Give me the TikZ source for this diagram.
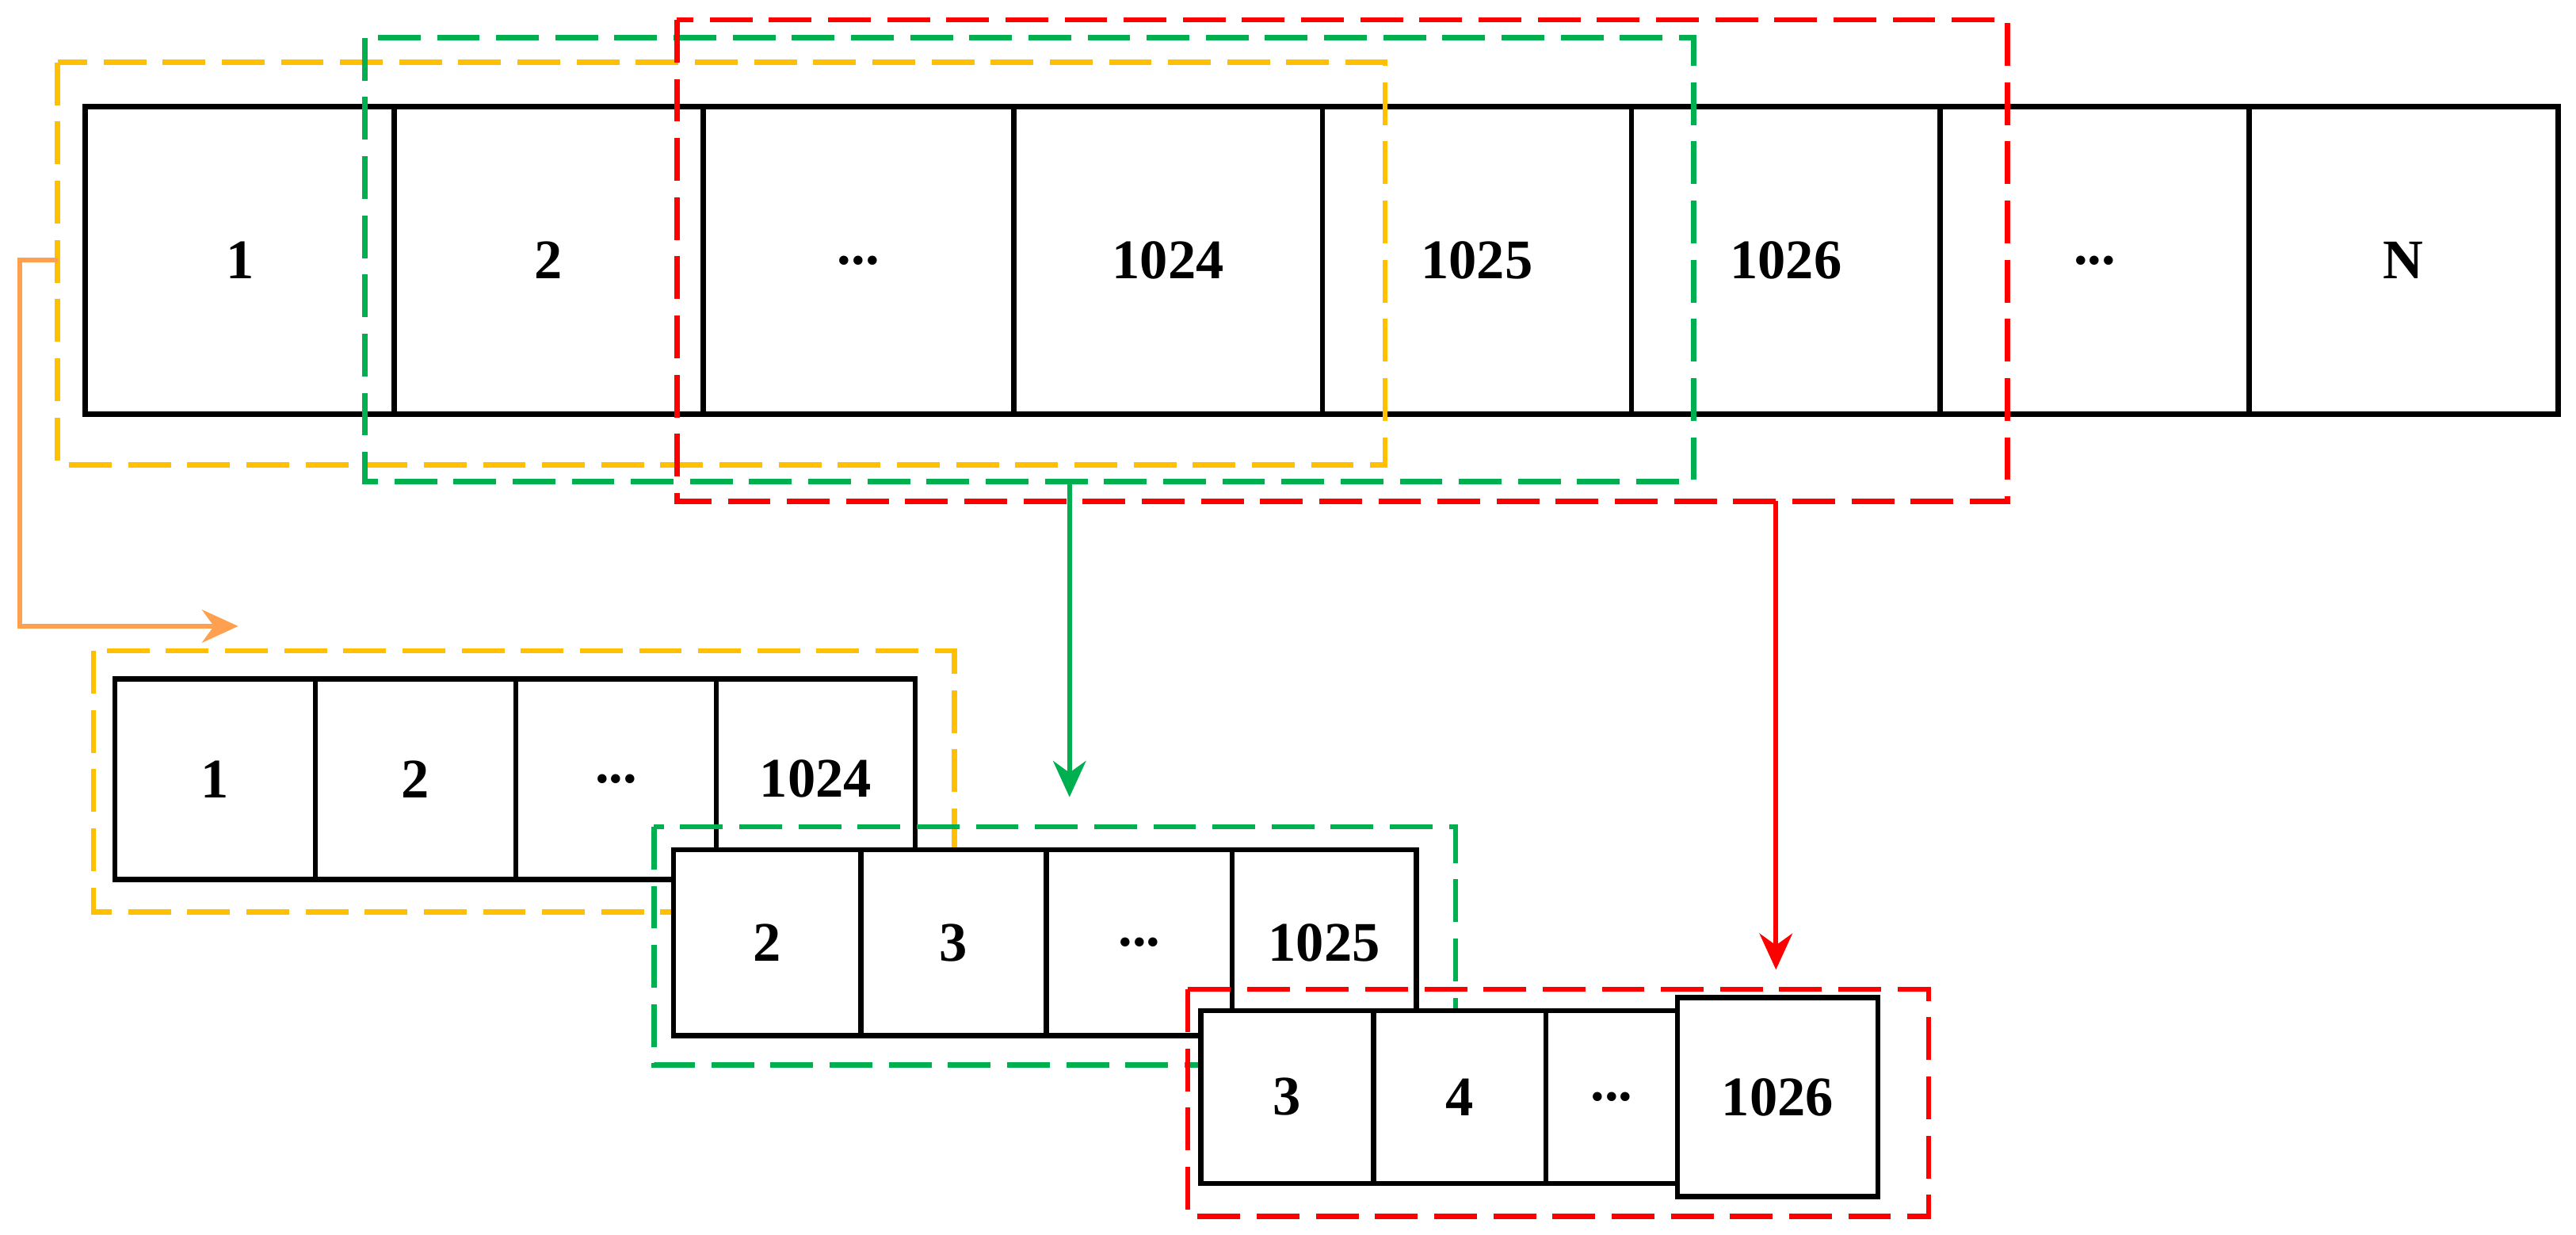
\documentclass[tikz,border=0pt]{standalone}
\usepackage{fontspec}
\setmainfont{Liberation Serif}
\usetikzlibrary{arrows.meta}
\definecolor{cy}{RGB}{255,192,0}
\definecolor{cg}{RGB}{0,176,80}
\definecolor{cr}{RGB}{255,0,0}
\definecolor{co}{RGB}{255,160,80}
\newcommand\mydd{...}
\begin{document}
\begin{tikzpicture}[x=0.5pt,y=-0.5pt,
 cell/.style={draw=black,line width=1.6pt,inner sep=0pt,font=\fontsize{17}{20}\selectfont\bfseries},
 win/.style={line width=1.6pt,dash pattern=on 13pt off 5pt},
 arr/.style={line width=1.4pt,-{Stealth[length=11pt,width=10pt]}}]
\useasboundingbox (0,0) rectangle (1568,751);
% top row
\foreach \a/\b/\t [count=\i] in {52/240/1,240/428/2,428/617/\mydd,617/805/1024,805/993/1025,993/1181/1026,1181/1369/\mydd,1369/1557/N}
  \node[cell,minimum width=(\b-\a)*0.5pt,minimum height=93.5pt] (t\i) at ({(\a+\b)/2},158.5) {\t};
\draw[win,cy] (35,38) rectangle (843,283);
\draw[win,cg] (222,23) rectangle (1031,293);
\draw[win,cr] (412,12) rectangle (1222,305);
\coordinate (ys) at (35,158);
\coordinate (ye) at (145,381);
\draw[arr,co] (ys) -- (12,158) -- (12,381) -- (ye);
\coordinate (gs) at (651,293); \coordinate (ge) at (651,485);
\draw[arr,cg] (gs) -- (ge);
\coordinate (rs) at (1081,305); \coordinate (re) at (1081,590);
\draw[arr,cr] (rs) -- (re);
% row 2
\foreach \a/\b/\t [count=\i] in {70/192/1,192/314/2,314/436/\mydd,436/557/1024}
  \node[cell,minimum width=(\b-\a)*0.5pt,minimum height=61pt] (a\i) at ({(\a+\b)/2},474) {\t};
\draw[win,cy] (57,396) rectangle (581,555);
% row 3
\foreach \a/\b/\t [count=\i] in {410/524/2,524/637/3,637/750/\mydd,750/862/1025}
  \node[cell,minimum width=(\b-\a)*0.5pt,minimum height=56.5pt,fill=white] (b\i) at ({(\a+\b)/2},573.5) {\t};
\draw[win,cg] (398,503) rectangle (886,648);
% row 4
\foreach \a/\b/\t [count=\i] in {731/836/3,836/941/4,941/1021/\mydd}
  \node[cell,minimum width=(\b-\a)*0.5pt,minimum height=52.5pt,fill=white] (c\i) at ({(\a+\b)/2},667.5) {\t};
\node[cell,minimum width=61pt,minimum height=60.5pt,fill=white] (c4) at (1082,667.5) {1026};
\draw[win,cr] (723,602) rectangle (1174,740);
\end{tikzpicture}
\end{document}
